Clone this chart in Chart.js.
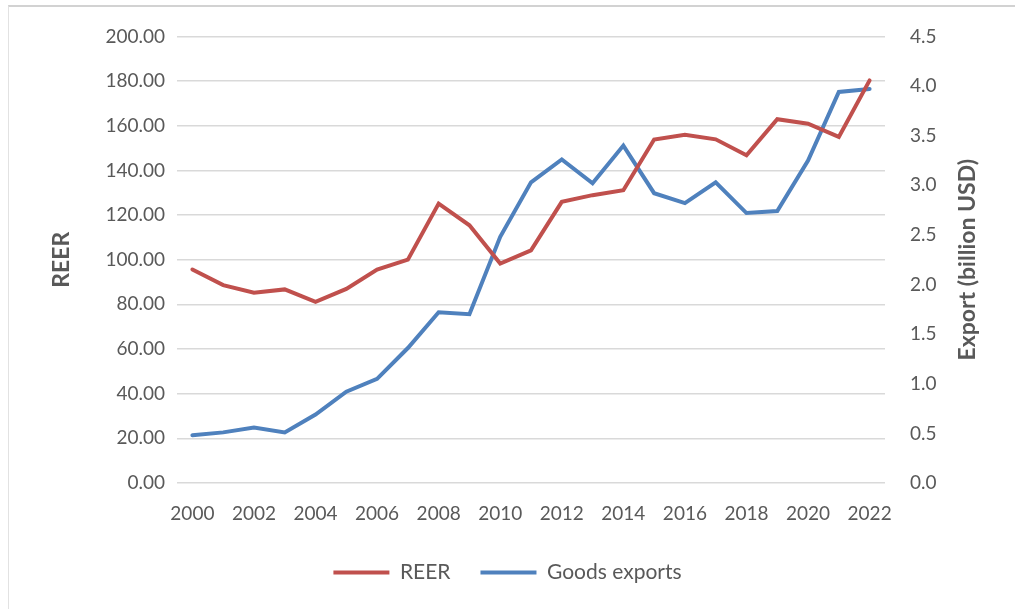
<!DOCTYPE html>
<html lang="en">

<head>
    <meta charset="UTF-8">
    <meta name="viewport" content="width=device-width, initial-scale=1.0">
    <title>REER and goods exports</title>
    <style>
        html, body { margin: 0; padding: 0; background: #fff; }
        body { width: 1015px; height: 609px; position: relative; overflow: hidden; }
        .frame {
            position: absolute; left: 8px; top: 5px; width: 1100px; height: 700px;
            border-top: 2px solid #d2d2d2; border-left: 1px solid #e2e2e2;
        }
        .wrap { position: absolute; left: 0; top: 0; width: 1015px; height: 609px; }
    </style>
</head>

<body>
    <div class="frame"></div>
    <div class="wrap"><canvas id="grafica"></canvas></div>

    <script src="https://cdn.jsdelivr.net/npm/chart.js@4.4.1/dist/chart.umd.min.js"></script>
    <script>
        // años 2000-2022
        const years = ['2000', '2001', '2002', '2003', '2004', '2005', '2006', '2007', '2008', '2009', '2010', '2011',
            '2012', '2013', '2014', '2015', '2016', '2017', '2018', '2019', '2020', '2021', '2022'];
        // REER (eje izquierdo)
        const reer = [95.6, 88.6, 85.2, 86.7, 81.1, 86.9, 95.6, 100.0, 125.1, 115.4, 98.3, 104.2,
            125.9, 128.9, 131.1, 153.8, 156.0, 153.9, 146.8, 162.9, 160.9, 155.0, 180.3];
        // exportaciones de bienes, miles de millones USD (eje derecho)
        const goodsExports = [0.48, 0.51, 0.56, 0.51, 0.69, 0.92, 1.05, 1.36, 1.72, 1.70, 2.48, 3.03,
            3.26, 3.02, 3.40, 2.92, 2.82, 3.03, 2.72, 2.74, 3.25, 3.94, 3.97];
        const rightTitle = 'Export (billion USD)';

        const textColor = '#595959';
        const fontFamily = 'Lato, "Open Sans", sans-serif';

        // título del eje derecho, leído de abajo hacia arriba
        const rightTitlePlugin = {
            id: 'rightTitle',
            afterDraw(chart) {
                const c = chart.ctx;
                const area = chart.chartArea;
                c.save();
                c.translate(968, (area.top + area.bottom) / 2);
                c.rotate(-Math.PI / 2);
                c.fillStyle = textColor;
                c.font = 'bold 23px ' + fontFamily;
                c.textAlign = 'center';
                c.textBaseline = 'middle';
                c.fillText(rightTitle, 0, 0);
                c.restore();
            }
        };

        const ctx = document.getElementById('grafica').getContext('2d');
        const grafica = new Chart(ctx, {
            type: 'line',
            data: {
                labels: years,
                datasets: [{
                    label: 'REER',
                    data: reer,
                    yAxisID: 'y',
                    borderColor: '#C0504D',
                    backgroundColor: '#C0504D',
                    borderWidth: 4,
                    borderCapStyle: 'round',
                    pointRadius: 0,
                    tension: 0
                }, {
                    label: 'Goods exports',
                    data: goodsExports,
                    yAxisID: 'y1',
                    borderColor: '#4F81BD',
                    backgroundColor: '#4F81BD',
                    borderWidth: 4,
                    borderCapStyle: 'round',
                    pointRadius: 0,
                    tension: 0
                }]
            },
            plugins: [rightTitlePlugin],
            options: {
                responsive: true,
                maintainAspectRatio: false,
                animation: false,
                layout: { padding: { top: 36, left: 0, right: 0, bottom: 16 } },
                plugins: {
                    tooltip: { enabled: false },
                    legend: {
                        position: 'bottom',
                        labels: {
                            usePointStyle: true,
                            pointStyle: 'line',
                            pointStyleWidth: 56,
                            padding: 30,
                            color: textColor,
                            font: { family: fontFamily, size: 21 }
                        }
                    }
                },
                scales: {
                    x: {
                        offset: true,
                        grid: { display: false, drawTicks: false },
                        border: { display: false },
                        ticks: {
                            autoSkip: false,
                            maxRotation: 0,
                            padding: 19,
                            color: textColor,
                            font: { family: fontFamily, size: 19 },
                            callback: (v, i) => (i % 2 === 0 ? years[i] : '')
                        },
                        afterFit: (scale) => { scale.height = 49; }
                    },
                    y: {
                        position: 'left',
                        min: 0,
                        max: 200,
                        grid: { color: '#d9d9d9', lineWidth: 1.5, drawTicks: false },
                        border: { display: false },
                        ticks: {
                            stepSize: 20,
                            padding: 12,
                            color: textColor,
                            font: { family: fontFamily, size: 19 },
                            callback: (v) => v.toFixed(2)
                        },
                        title: {
                            display: true,
                            text: 'REER',
                            color: textColor,
                            padding: { top: 48 },
                            font: { family: fontFamily, size: 23, weight: 'bold' }
                        },
                        afterFit: (scale) => { scale.width = 177; }
                    },
                    y1: {
                        position: 'right',
                        min: 0,
                        max: 4.5,
                        grid: { display: false, drawTicks: false },
                        border: { display: false },
                        ticks: {
                            stepSize: 0.5,
                            padding: 25,
                            color: textColor,
                            font: { family: fontFamily, size: 19 },
                            callback: (v) => v.toFixed(1)
                        },
                        afterFit: (scale) => { scale.width = 130; }
                    }
                }
            }
        });
    </script>
</body>

</html>
